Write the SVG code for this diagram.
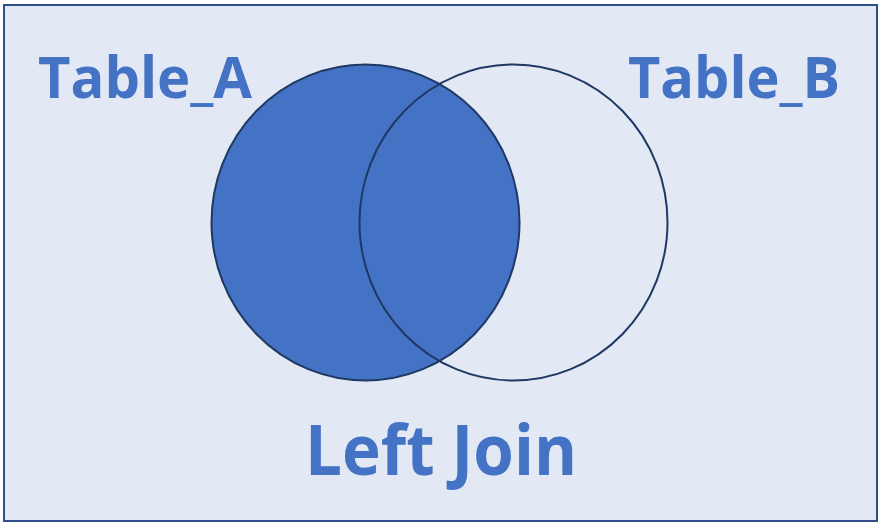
<svg xmlns="http://www.w3.org/2000/svg" width="884" height="529" viewBox="0 0 884 529">
<style>
.lbl{font-family:"Open Sans","Liberation Sans",sans-serif;font-weight:bold;fill:#4472C4}
.set{stroke:#1F3864;stroke-width:2}
</style>
<rect x="0" y="0" width="884" height="529" fill="#ffffff"/>
<rect x="4" y="5" width="873" height="516" fill="#E2E8F4" stroke="#2F4E8A" stroke-width="2"/>
<g id="setA"><ellipse class="set" cx="365.5" cy="222.5" rx="154" ry="158" fill="#4472C4"/></g>
<g id="setB"><ellipse class="set" cx="513.5" cy="222.5" rx="154" ry="158" fill="none"/></g>
<g id="labelA"><text class="lbl" x="38" y="98" font-size="57" textLength="214" lengthAdjust="spacingAndGlyphs">Table_A</text></g>
<g id="labelB"><text class="lbl" x="628" y="98" font-size="57" textLength="212" lengthAdjust="spacingAndGlyphs">Table_B</text></g>
<g id="title"><text class="lbl" x="305" y="475" font-size="70" textLength="272" lengthAdjust="spacingAndGlyphs">Left Join</text></g>
</svg>
